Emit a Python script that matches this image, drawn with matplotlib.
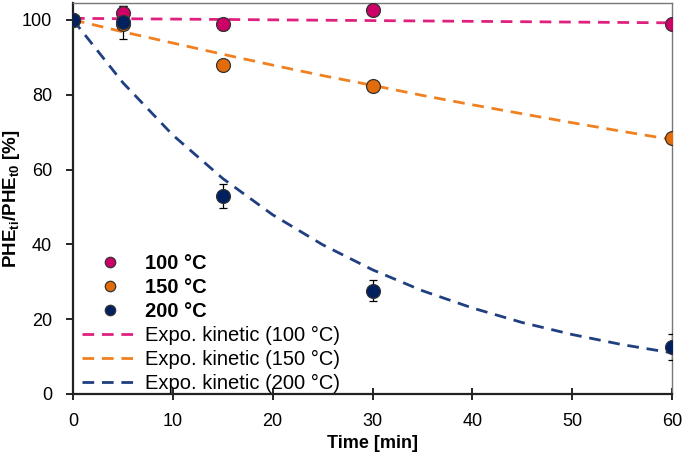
import matplotlib
matplotlib.use('Agg')
import matplotlib.pyplot as plt

plt.rcParams['font.family'] = ['Liberation Sans', 'DejaVu Sans']
plt.rcParams['mathtext.fontset'] = 'custom'
plt.rcParams['mathtext.rm'] = 'Liberation Sans:bold'
plt.rcParams['mathtext.bf'] = 'Liberation Sans:bold'

# measured points
time_pts = [0, 5, 15, 30, 60]
phe_100 = [100, 101.8, 98.8, 102.7, 98.8]
err_100 = [0, 1.8, 1.5, 0.8, 0.8]
phe_150 = [100, 99.0, 87.8, 82.2, 68.3]
err_150 = [0, 0.8, 0.8, 0.8, 0.8]
phe_200 = [100, 99.3, 52.9, 27.6, 12.6]
err_200 = [0, 4.4, 3.2, 2.8, 3.4]

# kinetic model curves (read every 5 min)
time_fit = [0, 5, 10, 15, 20, 25, 30, 35, 40, 45, 50, 55, 60]
fit_100 = [100.4, 100.3, 100.2, 100.1, 100.0, 99.9, 99.8, 99.7, 99.6, 99.5, 99.4, 99.3, 99.2]
fit_150 = [100, 96.8, 93.8, 90.8, 87.9, 85.1, 82.5, 79.8, 77.3, 74.9, 72.5, 70.2, 68.0]
fit_200 = [100, 83.2, 69.2, 57.6, 47.9, 39.9, 33.2, 27.6, 23.0, 19.1, 15.9, 13.2, 11.0]

temps = ['100 °C', '150 °C', '200 °C']
pt_colors = ['#CC0066', '#E36C0A', '#002060']
line_colors = ['#E0207F', '#F08020', '#1F3F80']

fig = plt.figure(figsize=(6.85, 4.57), dpi=100)
ax = fig.add_axes([73 / 685, 1 - 394 / 457, 599 / 685, 391 / 457])

pts = [phe_100, phe_150, phe_200]
errs = [err_100, err_150, err_200]
fits = [fit_100, fit_150, fit_200]

handles = []
for i in range(3):
    ax.errorbar(time_pts, pts[i], yerr=errs[i], fmt='none', ecolor='black',
                elinewidth=0.9, capsize=3, capthick=0.9, zorder=3)
    h, = ax.plot(time_pts, pts[i], 'o', ms=10, color=pt_colors[i], mec='#333333',
                 mew=0.9, zorder=4, label=temps[i])
    handles.append(h)
for i in range(3):
    h, = ax.plot(time_fit, fits[i], color=line_colors[i], lw=2, dashes=(4.2, 2.8),
                 zorder=2, label='Expo. kinetic (' + temps[i] + ')')
    handles.append(h)

ax.set_xlim(0, 60)
ax.set_ylim(0, 104.5)
ax.set_xticks(range(0, 61, 10))
ax.set_yticks(range(0, 101, 20))
ax.tick_params(axis='x', direction='inout', length=8, width=1.2, labelsize=13, pad=10)
ax.tick_params(axis='y', direction='out', length=5, width=1.2, labelsize=13, pad=10)

for s in ['left', 'bottom']:
    ax.spines[s].set_linewidth(1.6)
    ax.spines[s].set_color('#222222')
for s in ['top', 'right']:
    ax.spines[s].set_linewidth(1.0)
    ax.spines[s].set_color('#777777')

ax.set_xlabel('Time [min]', fontsize=13, fontweight='bold')
ax.set_ylabel(r'PHE$_{\mathbf{ti}}$/PHE$_{\mathbf{t0}}$ [%]', fontsize=13.5,
              fontweight='bold')
ax.xaxis.set_label_coords(0.5, -0.105)
ax.yaxis.set_label_coords(-0.085, 0.5)

leg = ax.legend(handles=handles, loc='lower left', bbox_to_anchor=(0.015, 0.002),
                frameon=False, fontsize=14.5, handlelength=2.8, handletextpad=0.35,
                labelspacing=0.25, borderpad=0, borderaxespad=0, markerscale=0.75)
for t in leg.get_texts()[:3]:
    t.set_fontweight('bold')

fig.savefig('out.png', dpi=100)
